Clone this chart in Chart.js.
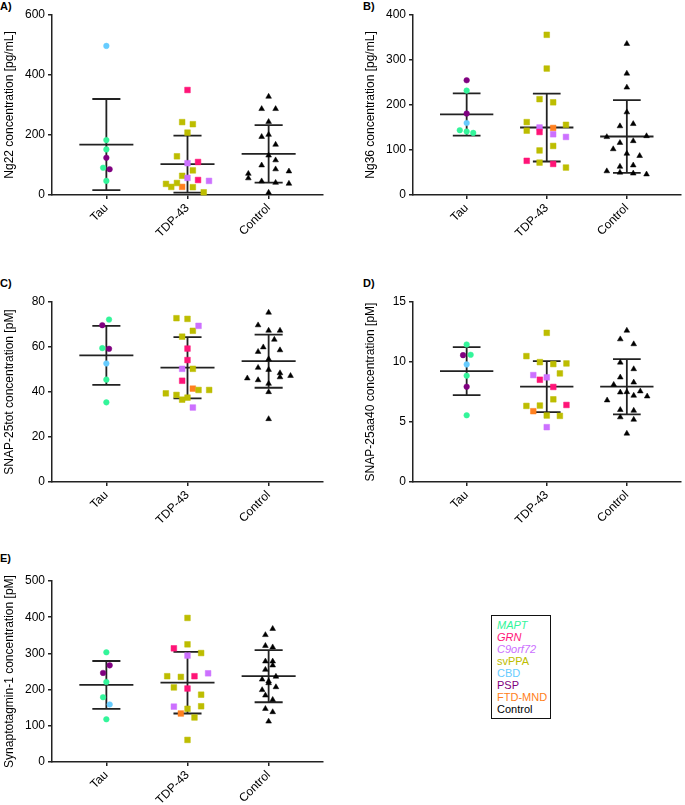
<!DOCTYPE html>
<html>
<head>
<meta charset="utf-8">
<script src="https://cdn.jsdelivr.net/npm/chart.js@4.4.0/dist/chart.umd.min.js"></script>
<style>
  body { margin: 0; background: #fff; width: 685px; height: 805px; overflow: hidden; position: relative;
         font-family: 'Liberation Sans', Arial, Helvetica, sans-serif; }
  canvas { position: absolute; }
  .tag { position: absolute; font-weight: bold; font-size: 11px; line-height: 12px; color: #000; }
  #legend { position: absolute; left: 491px; top: 615px; width: 60px; height: 104px; box-sizing: border-box;
            border: 1.5px solid #111; padding: 3px 0 0 5px; font-size: 11px; line-height: 12px; white-space: nowrap; }
</style>
</head>
<body>
<div class="tag" style="left:0;top:0">A)</div>
<div class="tag" style="left:363px;top:0">B)</div>
<div class="tag" style="left:0;top:277px">C)</div>
<div class="tag" style="left:363px;top:277px">D)</div>
<div class="tag" style="left:0;top:552px">E)</div>

<canvas id="chartA" width="340" height="255" style="left:0;top:0"></canvas>
<canvas id="chartB" width="324" height="255" style="left:361px;top:0"></canvas>
<canvas id="chartC" width="340" height="255" style="left:0;top:287px"></canvas>
<canvas id="chartD" width="324" height="255" style="left:361px;top:287px"></canvas>
<canvas id="chartE" width="340" height="239" style="left:0;top:566px"></canvas>
<div id="legend"></div>

<script>
const groups = ['Tau', 'TDP-43', 'Control'];
const subtypes = ['MAPT', 'GRN', 'C9orf72', 'svPPA', 'CBD', 'PSP', 'FTD-MND', 'Control'];
const subtypeGroup = [0, 1, 1, 1, 0, 0, 1, 2];
const subtypeColors = ['#33F59A', '#FF1477', '#CC70FF', '#BDBD00', '#66CCFF', '#800080', '#FF8020', '#000000'];
const italicSubtypes = ['MAPT', 'GRN', 'C9orf72'];

// A) Ng22 [pg/mL]  (types index into subtypes, jitter = horizontal offset in category units)
const ng22Values = [497, 183, 152, 124, 91, 86, 47,
  350, 243, 236, 208, 129, 106, 110, 82, 64, 57, 50, 47, 37, 40, 27, 27, 26, 9,
  328, 287, 287, 244, 194, 201, 168, 132, 99, 116, 71, 56, 86, 79, 46, 41, 38, 8];
const ng22Types = [4, 0, 0, 5, 0, 5, 0,
  1, 3, 3, 3, 3, 2, 1, 3, 3, 2, 1, 2, 3, 3, 3, 6, 3, 3,
  7, 7, 7, 7, 7, 7, 7, 7, 7, 7, 7, 7, 7, 7, 7, 7, 7, 7];
const ng22Jitter = [0, 0, 0, 0, -0.04, 0.04, 0,
  0, -0.066, 0.066, 0, -0.13, 0, 0.13, 0.066, -0.066, 0, 0.13, 0.265, -0.265, -0.13, -0.2, -0.066, 0.066, 0.2,
  0, -0.086, 0.086, 0, -0.086, 0, 0.086, 0, -0.086, 0.086, -0.25, -0.25, 0.086, 0.25, -0.086, 0.086, 0.25, 0];
const ng22Mean = [168, 103, 137];
const ng22SD = [152, 95, 96];

// B) Ng36 [pg/mL]
const ng36Values = [255, 232, 181, 160, 144, 141, 138,
  356, 281, 213, 206, 162, 143, 150, 149, 140, 135, 156, 129, 109, 99, 76, 72, 69, 61,
  336, 270, 239, 184, 153, 158, 129, 131, 116, 120, 102, 92, 87, 63, 66, 53, 50, 48, 46];
const ng36Types = [5, 0, 5, 4, 0, 0, 0,
  3, 3, 3, 3, 3, 3, 2, 6, 1, 2, 3, 2, 3, 3, 1, 3, 1, 3,
  7, 7, 7, 7, 7, 7, 7, 7, 7, 7, 7, 7, 7, 7, 7, 7, 7, 7, 7];
const ng36Jitter = [0, 0, 0, 0, -0.086, 0, 0.082,
  0, 0, -0.09, 0.08, -0.25, -0.25, -0.09, 0.08, -0.09, 0.08, 0.24, 0.24, 0.08, -0.09, -0.25, -0.09, 0.08, 0.24,
  0, 0, 0, 0, -0.086, 0.08, -0.25, 0.246, -0.086, 0.08, -0.17, 0, 0.16, -0.086, 0.08, -0.25, -0.086, 0.08, 0.246];
const ng36Mean = [179, 150, 130];
const ng36SD = [47, 75.5, 81];

// C) SNAP-25tot [pM]
const snapTotValues = [72.2, 69.7, 59.5, 59.2, 52.7, 45.5, 35.4,
  72.8, 72.5, 69.4, 67.2, 64.6, 59.3, 54.2, 50.3, 50.3, 45.0, 39.4, 38.7, 41.5, 40.9, 40.9, 36.6, 37.5, 33.1,
  75.3, 69.7, 67.3, 67.3, 63.3, 59.9, 57.9, 58.6, 54.6, 50.8, 49.9, 48.4, 46.6, 46.1, 45.3, 47.2, 43.7, 40.0, 28.0];
const snapTotTypes = [0, 5, 0, 5, 4, 0, 0,
  3, 3, 2, 3, 3, 1, 1, 2, 3, 1, 3, 3, 6, 3, 3, 3, 3, 2,
  7, 7, 7, 7, 7, 7, 7, 7, 7, 7, 7, 7, 7, 7, 7, 7, 7, 7, 7];
const snapTotJitter = [0.033, -0.05, -0.05, 0.033, 0, 0, 0,
  -0.136, 0, 0.136, 0.066, -0.066, 0, 0, -0.066, 0.066, -0.066, -0.267, -0.136, 0.066, 0.136, 0.267, -0.066, 0, 0.066,
  0, -0.13, 0, 0.14, 0.07, -0.066, -0.13, 0.14, 0, -0.13, 0, 0.14, 0.14, -0.263, -0.13, 0.27, 0, 0, 0];
const snapTotMean = [56.3, 50.8, 53.7];
const snapTotSD = [13.1, 13.6, 11.8];

// D) SNAP-25aa40 [pM]
const snapAaValues = [11.46, 10.57, 10.60, 9.80, 8.86, 7.94, 5.56,
  12.43, 10.49, 9.99, 9.83, 9.88, 9.05, 8.91, 8.72, 8.52, 7.92, 6.89, 6.34, 6.37, 6.42, 5.90, 5.54, 5.51, 4.57,
  12.62, 11.90, 11.49, 9.96, 9.41, 8.72, 8.30, 8.11, 7.47, 7.50, 7.20, 7.56, 7.14, 6.81, 6.01, 5.95, 5.40, 5.20, 4.04];
const snapAaTypes = [0, 5, 0, 4, 0, 5, 0,
  3, 3, 3, 3, 3, 3, 2, 2, 1, 1, 3, 3, 3, 1, 6, 3, 3, 2,
  7, 7, 7, 7, 7, 7, 7, 7, 7, 7, 7, 7, 7, 7, 7, 7, 7, 7, 7];
const snapAaJitter = [0, -0.045, 0.05, 0, 0, 0, 0,
  0, -0.254, -0.086, 0.082, 0.246, 0.164, -0.168, 0, -0.086, 0.082, 0.082, -0.254, -0.086, 0.246, -0.168, 0, 0.164, 0,
  0, -0.082, 0.086, -0.082, 0.086, -0.082, 0.086, -0.164, -0.082, 0, 0.086, 0.168, 0.254, -0.246, -0.082, 0.086, -0.082, 0.086, 0];
const snapAaMean = [9.24, 7.95, 7.94];
const snapAaSD = [2.0, 2.12, 2.3];

// E) Synaptotagmin-1 [pM]
const sytValues = [303, 267, 246, 221, 179, 159, 118,
  398, 325, 314, 294, 301, 237, 235, 237, 245, 206, 203, 186, 153, 147, 154, 134, 123, 61,
  368, 351, 321, 317, 278, 278, 267, 255, 228, 236, 223, 218, 199, 207, 184, 172, 147, 138, 112];
const sytTypes = [0, 5, 5, 0, 0, 4, 0,
  3, 3, 1, 2, 3, 3, 3, 1, 2, 3, 1, 3, 2, 3, 3, 6, 3, 3,
  7, 7, 7, 7, 7, 7, 7, 7, 7, 7, 7, 7, 7, 7, 7, 7, 7, 7, 7];
const sytJitter = [0, 0.041, -0.041, 0, -0.041, 0.041, 0,
  0, 0, -0.168, 0, 0.168, -0.25, -0.082, 0.086, 0.254, -0.168, 0, 0.168, -0.168, 0, 0.168, -0.082, 0.086, 0,
  0.05, -0.04, -0.04, 0.05, -0.04, 0.05, 0.05, -0.04, -0.08, 0.09, 0, 0, -0.08, 0.09, -0.04, 0.05, -0.04, 0.05, 0];
const sytMean = [213, 219, 237];
const sytSD = [66, 85, 72];

Chart.defaults.font.family = "'Liberation Sans', Arial, Helvetica, sans-serif";
Chart.defaults.font.size = 12;
Chart.defaults.color = '#000';

const markers = ['circle', 'rect', 'triangle'];
const markerSize = [2.8, 4, 3.3];
const MEAN_HALF = 0.333;
const CAP_HALF = 0.173;
const AXIS_LEFT = 52;
const PLOT_RIGHT = 323;

function errorBarData(means, sds) {
  const pts = [];
  means.forEach((m, g) => {
    const c = g + 1, s = sds[g];
    pts.push({ x: c - MEAN_HALF, y: m }, { x: c + MEAN_HALF, y: m }, { x: c, y: null });
    pts.push({ x: c, y: m - s }, { x: c, y: m + s }, { x: c, y: null });
    pts.push({ x: c - CAP_HALF, y: m + s }, { x: c + CAP_HALF, y: m + s }, { x: c, y: null });
    pts.push({ x: c - CAP_HALF, y: m - s }, { x: c + CAP_HALF, y: m - s }, { x: c, y: null });
  });
  return pts;
}

function makePanel(id, values, types, jitter, means, sds, yMax, yStep, yTitle, xAxisH) {
  const canvas = document.getElementById(id);
  const datasets = [];
  subtypes.forEach((name, k) => {
    const g = subtypeGroup[k];
    const pts = [];
    values.forEach((v, i) => {
      if (types[i] === k) pts.push({ x: g + 1 + jitter[i], y: v });
    });
    if (!pts.length) return;
    datasets.push({
      label: name,
      data: pts,
      pointStyle: markers[g],
      pointRadius: markerSize[g],
      backgroundColor: subtypeColors[k],
      borderColor: subtypeColors[k],
      borderWidth: 0.5,
      clip: false,
      order: 0
    });
  });
  datasets.push({
    label: 'mean ± SD',
    data: errorBarData(means, sds),
    showLine: true,
    spanGaps: false,
    pointRadius: 0,
    borderColor: '#222',
    borderWidth: 1.8,
    order: 1
  });

  const axisGrid = { drawOnChartArea: false, drawTicks: true, tickLength: 4, color: '#222', lineWidth: 1.5 };
  const axisBorder = { color: '#222', width: 1.5 };

  new Chart(canvas.getContext('2d'), {
    type: 'scatter',
    data: { datasets },
    options: {
      responsive: false,
      animation: false,
      devicePixelRatio: 1,
      layout: { padding: { top: 15, left: 0, bottom: 0, right: canvas.width - PLOT_RIGHT } },
      plugins: { legend: { display: false }, tooltip: { enabled: false } },
      scales: {
        x: {
          type: 'linear',
          min: 0.33,
          max: 3.67,
          afterBuildTicks: s => { s.ticks = groups.map((g, i) => ({ value: i + 1 })); },
          afterFit: s => { s.height = xAxisH; },
          ticks: { callback: v => groups[Math.round(v) - 1], minRotation: 45, maxRotation: 45, autoSkip: false, padding: 2 },
          grid: axisGrid,
          border: axisBorder
        },
        y: {
          min: 0,
          max: yMax,
          afterFit: s => { s.width = AXIS_LEFT; },
          ticks: { stepSize: yStep, padding: 3 },
          title: { display: true, text: yTitle, font: { size: 12 }, padding: { top: 2, bottom: 0 } },
          grid: axisGrid,
          border: axisBorder
        }
      }
    }
  });
}

makePanel('chartA', ng22Values, ng22Types, ng22Jitter, ng22Mean, ng22SD, 600, 200, 'Ng22 concentration [pg/mL]', 60);
makePanel('chartB', ng36Values, ng36Types, ng36Jitter, ng36Mean, ng36SD, 400, 100, 'Ng36 concentration [pg/mL]', 60);
makePanel('chartC', snapTotValues, snapTotTypes, snapTotJitter, snapTotMean, snapTotSD, 80, 20, 'SNAP-25tot concentration [pM]', 60);
makePanel('chartD', snapAaValues, snapAaTypes, snapAaJitter, snapAaMean, snapAaSD, 15, 5, 'SNAP-25aa40 concentration [pM]', 60);
makePanel('chartE', sytValues, sytTypes, sytJitter, sytMean, sytSD, 500, 100, 'Synaptotagmin-1 concentration [pM]', 43);

document.getElementById('legend').innerHTML = subtypes.map((name, k) => {
  const style = italicSubtypes.includes(name) ? 'font-style:italic;' : '';
  return `<div style="color:${subtypeColors[k]};${style}">${name}</div>`;
}).join('');
</script>
</body>
</html>
